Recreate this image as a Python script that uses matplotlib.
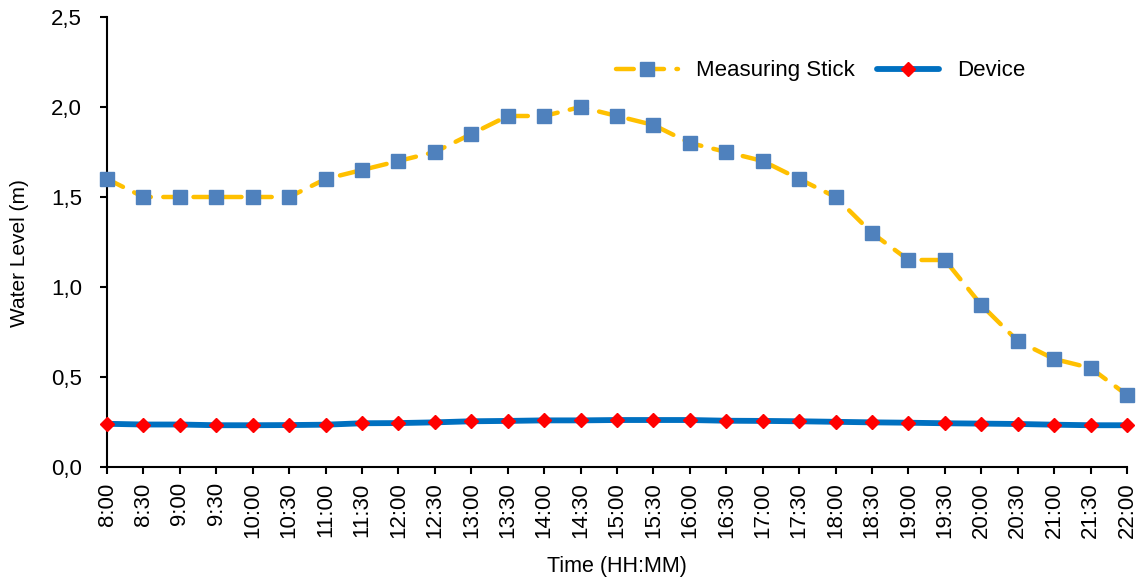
import matplotlib
matplotlib.use("Agg")
import matplotlib.pyplot as plt
from matplotlib.ticker import FuncFormatter, MultipleLocator

times = ["8:00", "8:30", "9:00", "9:30", "10:00", "10:30", "11:00", "11:30",
         "12:00", "12:30", "13:00", "13:30", "14:00", "14:30", "15:00", "15:30",
         "16:00", "16:30", "17:00", "17:30", "18:00", "18:30", "19:00", "19:30",
         "20:00", "20:30", "21:00", "21:30", "22:00"]
measuring_stick = [1.6, 1.5, 1.5, 1.5, 1.5, 1.5, 1.6, 1.65, 1.7, 1.75, 1.85, 1.95,
                   1.95, 2.0, 1.95, 1.9, 1.8, 1.75, 1.7, 1.6, 1.5, 1.3, 1.15, 1.15,
                   0.9, 0.7, 0.6, 0.55, 0.4]
device = [0.240, 0.236, 0.236, 0.232, 0.232, 0.233, 0.235, 0.243, 0.244, 0.248,
          0.254, 0.256, 0.259, 0.259, 0.261, 0.261, 0.261, 0.257, 0.256, 0.254,
          0.251, 0.248, 0.246, 0.243, 0.241, 0.239, 0.235, 0.232, 0.232]

plt.rcParams['font.family'] = ['Liberation Sans', 'DejaVu Sans']

fig = plt.figure(figsize=(11.4, 5.82), dpi=100)
ax = fig.add_axes([0.0939, 0.1976, 0.8947, 0.7732])

x = list(range(len(times)))
ax.plot(x, measuring_stick, color='#FFC000', lw=3.2, dashes=(4.0, 2.8),
        dash_capstyle='round', marker='s', markersize=10.5,
        markerfacecolor='#4F81BD', markeredgecolor='#4F81BD',
        label='Measuring Stick', zorder=3, clip_on=False)
ax.plot(x, device, color='#0070C0', lw=4.2, solid_capstyle='round',
        marker='D', markersize=7, markerfacecolor='#FF0000',
        markeredgecolor='#FF0000', label='Device', zorder=4, clip_on=False)

ax.set_xlim(0, len(times) - 1)
ax.set_ylim(0, 2.5)
ax.set_xticks(x)
ax.set_xticklabels(times, rotation=90, fontsize=16)
ax.yaxis.set_major_locator(MultipleLocator(0.5))
ax.yaxis.set_major_formatter(FuncFormatter(lambda v, p: f"{v:.1f}".replace('.', ',')))
ax.tick_params(axis='y', labelsize=16, length=5, width=1.5, direction='out', pad=13)
ax.tick_params(axis='x', length=5, width=1.5, direction='out', pad=6)

for s in ['top', 'right']:
    ax.spines[s].set_visible(False)
for s in ['left', 'bottom']:
    ax.spines[s].set_linewidth(1.5)
    ax.spines[s].set_color('black')

ax.set_ylabel('Water Level (m)', fontsize=15)
ax.yaxis.set_label_coords(-0.077, 0.476)
ax.set_xlabel('Time (HH:MM)', fontsize=15.5, labelpad=13)

ax.legend(loc='upper right', bbox_to_anchor=(0.92, 0.948), ncol=2, frameon=False,
          fontsize=16, handlelength=2.8, columnspacing=1.0, handletextpad=0.8)

fig.savefig('out.png', dpi=100)
